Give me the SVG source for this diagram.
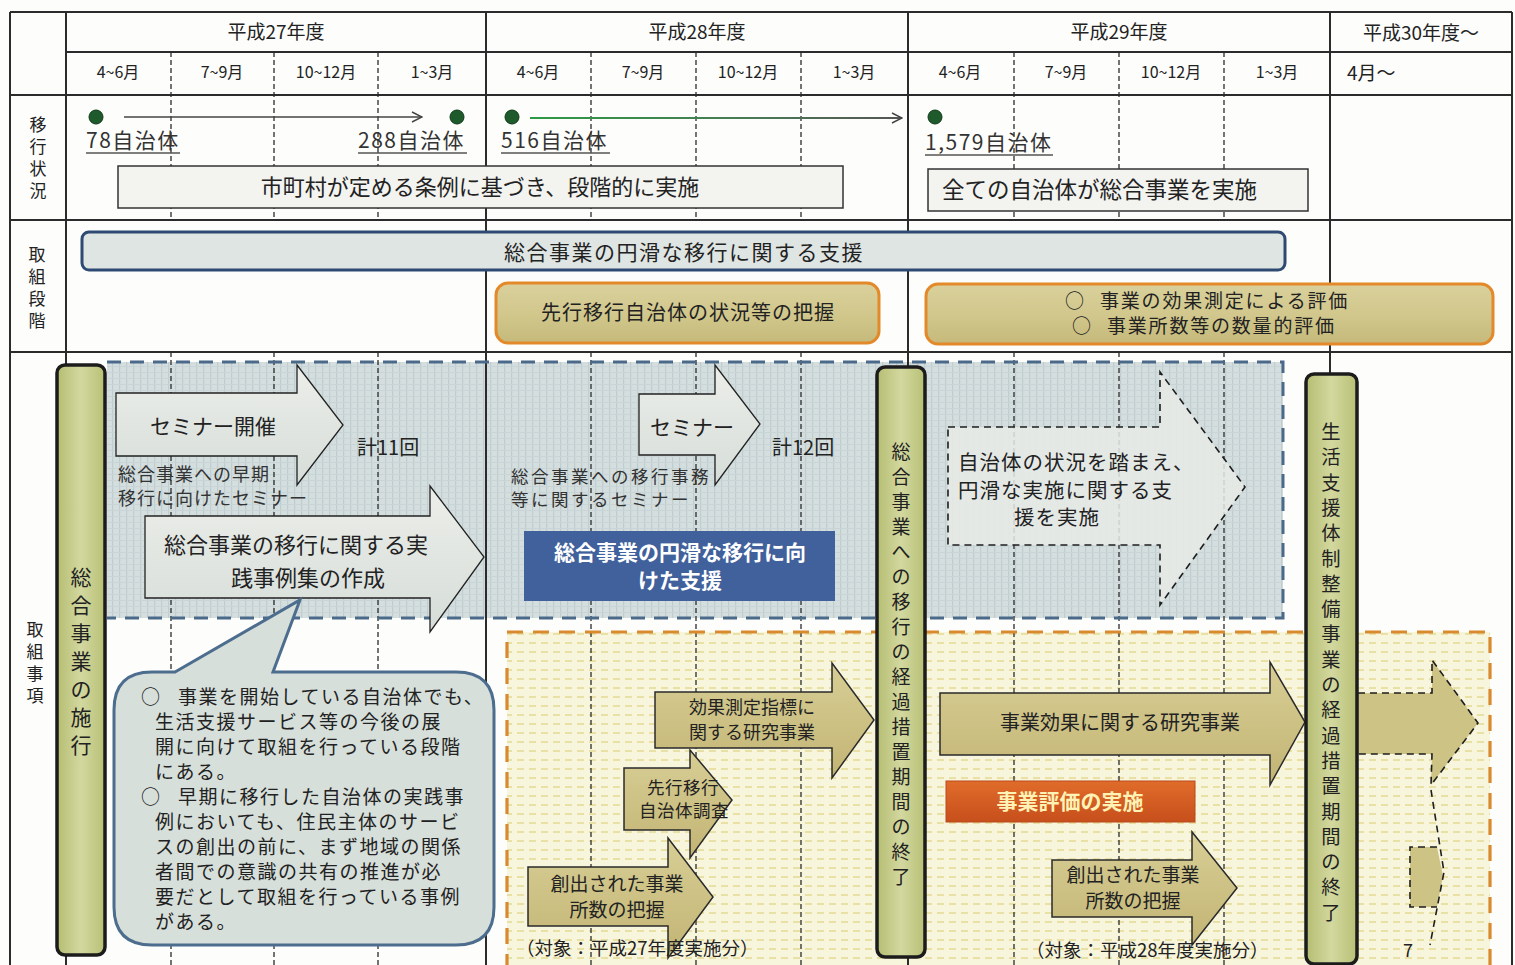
<svg xmlns="http://www.w3.org/2000/svg" width="1515" height="965" viewBox="0 0 1515 965">
<defs>
<style>
text{font-family:"Noto Sans CJK JP","Noto Sans",sans-serif;fill:#222}
.grid{stroke:#2b2b2b;stroke-width:2;fill:none}
.q{stroke:#2b2b2b;stroke-width:1.3;stroke-dasharray:5 3;fill:none}
.hdr{font-size:19px;text-anchor:middle}
.mon{font-size:16px;text-anchor:middle}
.cnt{font-size:21px;letter-spacing:1.5px;fill:#333}
.ul{stroke:#555;stroke-width:1.5}
.dot{fill:#1e5a2b;stroke:#0f3a18;stroke-width:1}
.vlab{font-size:17px;text-anchor:middle}
.box1{fill:#f3f3f0;stroke:#333;stroke-width:1.5}
.bar{fill:url(#gBar);stroke:#1c1c1c;stroke-width:3.5}
.barT{text-anchor:middle}
.garr{fill:url(#gGray);stroke:#222;stroke-width:1.3}
.karr{fill:url(#gKhaki);stroke:#2a2a2a;stroke-width:1.5}
.obox{fill:url(#gOlive);stroke:#e3892a;stroke-width:3}
.mid{text-anchor:middle}
.dash{fill:none;stroke:#1e1e1e;stroke-width:1.6;stroke-dasharray:7 5}
</style>
<pattern id="pBlue" width="7" height="6" patternUnits="userSpaceOnUse">
<rect width="7" height="6" fill="#d4dede"/>
<rect x="0" y="0" width="1.2" height="6" fill="#bfcdcf"/>
<rect x="0" y="0" width="7" height="1" fill="#c8d4d5"/>
</pattern>
<pattern id="pYel" width="12" height="9" patternUnits="userSpaceOnUse">
<rect width="12" height="9" fill="#f8f5dd"/>
<rect x="1" y="3" width="7" height="2" fill="#e8e0a4"/>
</pattern>
<linearGradient id="gBar" x1="0" x2="1" y1="0" y2="0">
<stop offset="0" stop-color="#b5bd72"/><stop offset="0.5" stop-color="#d3d89f"/><stop offset="1" stop-color="#b8c075"/>
</linearGradient>
<linearGradient id="gGray" x1="0" x2="0" y1="0" y2="1">
<stop offset="0" stop-color="#eceee9"/><stop offset="1" stop-color="#d6ddd9"/>
</linearGradient>
<linearGradient id="gKhaki" x1="0" x2="0" y1="0" y2="1">
<stop offset="0" stop-color="#d8ce95"/><stop offset="1" stop-color="#c2b474"/>
</linearGradient>
<linearGradient id="gOlive" x1="0" x2="0" y1="0" y2="1">
<stop offset="0" stop-color="#d9d09c"/><stop offset="0.5" stop-color="#d2c88d"/><stop offset="1" stop-color="#c5b97a"/>
</linearGradient>
<linearGradient id="gRed" x1="0" x2="0" y1="0" y2="1">
<stop offset="0" stop-color="#e06c2a"/><stop offset="1" stop-color="#c74f1c"/>
</linearGradient>
<linearGradient id="gGreenLine" gradientUnits="userSpaceOnUse" x1="530" y1="0" x2="902" y2="0">
<stop offset="0" stop-color="#2f9a45"/><stop offset="0.6" stop-color="#4a7a55"/><stop offset="1" stop-color="#555"/>
</linearGradient>
<marker id="chev" viewBox="0 0 12 12" refX="11" refY="6" markerWidth="12" markerHeight="12" markerUnits="userSpaceOnUse" orient="auto">
<path d="M1,1 L11,6 L1,11" fill="none" stroke="#444" stroke-width="1.4"/>
</marker>
</defs>

<rect width="1515" height="965" fill="#fdfdfc"/>

<!-- regions -->
<g id="region-blue">
<rect x="107" y="362" width="1176" height="256" fill="url(#pBlue)"/>
</g>
<g id="region-yellow">
<rect x="507" y="632" width="983" height="340" fill="url(#pYel)"/>
</g>

<!-- grid -->
<g id="grid">
<g class="q">
<path d="M171,52V220 M274,52V220 M378,52V220 M591,52V220 M696,52V220 M801,52V220 M1014,52V220 M1119,52V220 M1224,52V220"/>
<path d="M171,352V965 M274,352V965 M378,352V965 M591,352V965 M696,352V965 M801,352V965 M1014,352V965 M1119,352V965 M1224,352V965"/>
</g>
<path class="grid" d="M10,12H1512 M66,52H1512 M10,95H1512 M10,220H1512 M10,352H1512 M10,12V965 M66,12V965 M486,12V965 M908,12V965 M1330,12V965 M1512,12V965"/>
</g>

<g id="region-borders">
<path d="M107,362H1283V618H107" fill="none" stroke="#4b6a8a" stroke-width="3" stroke-dasharray="14 9"/>
<path d="M507,970V632H1490V970" fill="none" stroke="#d9892e" stroke-width="3.2" stroke-dasharray="16 10"/>
</g>

<!-- header -->
<g id="header">
<text class="hdr" x="276" y="39">平成27年度</text>
<text class="hdr" x="697" y="39">平成28年度</text>
<text class="hdr" x="1119" y="39">平成29年度</text>
<text class="hdr" x="1421" y="40">平成30年度～</text>
<text class="mon" x="118" y="78">4~6月</text>
<text class="mon" x="222" y="78">7~9月</text>
<text class="mon" x="326" y="78">10~12月</text>
<text class="mon" x="432" y="78">1~3月</text>
<text class="mon" x="538" y="78">4~6月</text>
<text class="mon" x="643" y="78">7~9月</text>
<text class="mon" x="748" y="78">10~12月</text>
<text class="mon" x="854" y="78">1~3月</text>
<text class="mon" x="960" y="78">4~6月</text>
<text class="mon" x="1066" y="78">7~9月</text>
<text class="mon" x="1171" y="78">10~12月</text>
<text class="mon" x="1277" y="78">1~3月</text>
<text x="1347" y="80" font-size="19">4月～</text>
</g>

<!-- row labels -->
<g id="label-ikou">
<text class="vlab"><tspan x="38" y="131">移</tspan><tspan x="38" y="153">行</tspan><tspan x="38" y="175">状</tspan><tspan x="38" y="197">況</tspan></text>
</g>
<g id="label-dankai">
<text class="vlab"><tspan x="37" y="261">取</tspan><tspan x="37" y="283">組</tspan><tspan x="37" y="305">段</tspan><tspan x="37" y="327">階</tspan></text>
</g>
<g id="label-jikou">
<text class="vlab"><tspan x="35" y="636">取</tspan><tspan x="35" y="658">組</tspan><tspan x="35" y="680">事</tspan><tspan x="35" y="702">項</tspan></text>
</g>

<!-- connectors -->
<g id="connectors">
<line x1="124" y1="117" x2="422" y2="117" stroke="#444" stroke-width="1.4" marker-end="url(#chev)"/>
<line x1="530" y1="118" x2="902" y2="118" stroke="url(#gGreenLine)" stroke-width="2" marker-end="url(#chev)"/>
</g>

<!-- row 1 -->
<g id="m78">
<circle class="dot" cx="96" cy="117" r="7"/>
<text class="cnt" x="86" y="148">78自治体</text>
<line class="ul" x1="86" y1="153" x2="180" y2="153"/>
</g>
<g id="m288">
<circle class="dot" cx="457" cy="117" r="7"/>
<text class="cnt" x="358" y="148">288自治体</text>
<line class="ul" x1="358" y1="153" x2="467" y2="153"/>
</g>
<g id="m516">
<circle class="dot" cx="512" cy="117" r="7"/>
<text class="cnt" x="501" y="148">516自治体</text>
<line class="ul" x1="501" y1="153" x2="610" y2="153"/>
</g>
<g id="m1579">
<circle class="dot" cx="935" cy="117" r="7"/>
<text class="cnt" x="925" y="150">1,579自治体</text>
<line class="ul" x1="925" y1="155" x2="1053" y2="155"/>
</g>
<g id="box-dankaiteki">
<rect class="box1" x="118" y="166" width="725" height="42"/>
<text class="mid" x="480" y="195" font-size="22">市町村が定める条例に基づき、段階的に実施</text>
</g>
<g id="box-subete">
<rect class="box1" x="928" y="169" width="380" height="42"/>
<text x="942" y="198" font-size="22.5">全ての自治体が総合事業を実施</text>
</g>

<!-- row 2 -->
<g id="box-shien">
<rect x="82" y="232" width="1203" height="38" rx="7" fill="#dfe5e2" stroke="#2e4a73" stroke-width="3"/>
<text class="mid" x="684" y="260" font-size="21" letter-spacing="1.5">総合事業の円滑な移行に関する支援</text>
</g>
<g id="box-haaku">
<rect class="obox" x="496" y="283" width="383" height="60" rx="12"/>
<text class="mid" x="688" y="320" font-size="20" letter-spacing="1">先行移行自治体の状況等の把握</text>
</g>
<g id="box-hyouka">
<rect class="obox" x="926" y="284" width="567" height="60" rx="12"/>
<text font-size="19" letter-spacing="1.8"><tspan x="1065" y="308">○</tspan><tspan x="1100" y="308">事業の効果測定による評価</tspan><tspan x="1072" y="333">○</tspan><tspan x="1107" y="333">事業所数等の数量的評価</tspan></text>
</g>

<!-- row 3 : blue region -->
<g id="arrow-seminar1">
<polygon class="garr" points="116,393 297,393 297,365 343,425 297,485 297,456 116,456"/>
<text x="150" y="434" font-size="21">セミナー開催</text>
</g>
<g id="note-seminar1">
<text font-size="18" letter-spacing="1" style="fill:#333"><tspan x="118" y="481">総合事業への早期</tspan><tspan x="118" y="505">移行に向けたセミナー</tspan></text>
<text x="357" y="455" font-size="20">計11回</text>
</g>
<g id="arrow-jireishu">
<polygon class="garr" points="145,516 430,516 430,486 484,557 430,632 430,598 145,598"/>
<text class="mid" font-size="22"><tspan x="296" y="553">総合事業の移行に関する実</tspan><tspan x="308" y="586">践事例集の作成</tspan></text>
</g>
<g id="arrow-seminar2">
<polygon class="garr" points="639,394 715,394 715,365 760,424 715,485 715,455 639,455"/>
<text class="mid" x="692" y="435" font-size="21">セミナー</text>
</g>
<g id="note-seminar2">
<text font-size="17.5" letter-spacing="2.5" style="fill:#333"><tspan x="511" y="483">総合事業への移行事務</tspan><tspan x="511" y="506">等に関するセミナー</tspan></text>
<text x="772" y="455" font-size="20">計12回</text>
</g>
<g id="box-enkatsu">
<rect x="524" y="531" width="311" height="70" fill="#40619c"/>
<text class="mid" font-size="21" font-weight="bold" style="fill:#fff"><tspan x="680" y="560">総合事業の円滑な移行に向</tspan><tspan x="680" y="588">けた支援</tspan></text>
</g>
<g id="arrow-jisshi">
<polygon points="948,427 1160,427 1160,372 1245,487 1160,605 1160,545 948,545" fill="#e7ebe7" fill-opacity="0.85"/>
<polygon class="dash" points="948,427 1160,427 1160,372 1245,487 1160,605 1160,545 948,545"/>
<text font-size="20.5" letter-spacing="1"><tspan x="958" y="470">自治体の状況を踏まえ、</tspan><tspan x="958" y="498">円滑な実施に関する支</tspan><tspan x="1014" y="525">援を実施</tspan></text>
</g>

<!-- callout -->
<g id="callout">
<path d="M152,672 L175,672 L300,600 L273,672 L456,672 Q494,672 494,710 L494,907 Q494,945 456,945 L152,945 Q114,945 114,907 L114,710 Q114,672 152,672 Z" fill="#d7dfda" stroke="#4d6d8e" stroke-width="3"/>
<text font-size="19" letter-spacing="1.5">
<tspan x="141" y="704">○</tspan><tspan x="178" y="704">事業を開始している自治体でも、</tspan>
<tspan x="155" y="729">生活支援サービス等の今後の展</tspan>
<tspan x="155" y="754">開に向けて取組を行っている段階</tspan>
<tspan x="155" y="779">にある。</tspan>
<tspan x="141" y="804">○</tspan><tspan x="178" y="804">早期に移行した自治体の実践事</tspan>
<tspan x="155" y="829">例においても、住民主体のサービ</tspan>
<tspan x="155" y="854">スの創出の前に、まず地域の関係</tspan>
<tspan x="155" y="879">者間での意識の共有の推進が必</tspan>
<tspan x="155" y="904">要だとして取組を行っている事例</tspan>
<tspan x="155" y="929">がある。</tspan>
</text>
</g>

<!-- row 3 : yellow region -->
<g id="arrow-souhaku27">
<polygon class="karr" points="528,867 668,867 668,838 713,897 668,958 668,926 528,926"/>
<text class="mid" font-size="19"><tspan x="617" y="891">創出された事業</tspan><tspan x="617" y="917">所数の把握</tspan></text>
</g>
<g id="arrow-chousa">
<polygon class="karr" points="624,768 690,768 690,750 732,800 690,858 690,830 624,830"/>
<text class="mid" font-size="17.5" letter-spacing="0.5"><tspan x="683" y="794">先行移行</tspan><tspan x="684" y="817">自治体調査</tspan></text>
</g>
<g id="arrow-kouka">
<polygon class="karr" points="655,692 832,692 832,663 874,720 832,778 832,748 655,748"/>
<text class="mid" font-size="18"><tspan x="752" y="714">効果測定指標に</tspan><tspan x="752" y="739">関する研究事業</tspan></text>
</g>
<text id="note-27" x="516" y="955" font-size="18.5">（対象：平成27年度実施分）</text>

<g id="arrow-kenkyu">
<polygon class="karr" points="940,693 1270,693 1270,662 1305,722 1270,785 1270,755 940,755"/>
<text class="mid" x="1120" y="730" font-size="20">事業効果に関する研究事業</text>
</g>
<g id="box-jigyohyoka">
<rect x="946" y="781" width="249" height="41" fill="url(#gRed)" stroke="#b9481a" stroke-width="1"/>
<text class="mid" x="1070" y="809" font-size="21" font-weight="bold" style="fill:#fff2b5">事業評価の実施</text>
</g>
<g id="arrow-souhaku28">
<polygon class="karr" points="1052,860 1192,860 1192,832 1237,888 1192,945 1192,917 1052,917"/>
<text class="mid" font-size="19"><tspan x="1133" y="882">創出された事業</tspan><tspan x="1133" y="908">所数の把握</tspan></text>
</g>
<text id="note-28" x="1026" y="957" font-size="18.5">（対象：平成28年度実施分）</text>

<g id="arrow-future">
<polygon points="1358,693 1432,693 1432,660 1478,723 1431,785 1432,754 1358,754" fill="#cdc384"/>
<polyline class="dash" points="1358,693 1432,693 1432,660 1478,723 1431,785 1432,754 1358,754"/>
</g>
<g id="arrow-future-small">
<polygon points="1410,847 1437,847 1443,876 1437,907 1410,907" fill="#cdc384"/>
<polyline class="dash" points="1437,847 1410,847 1410,907 1437,907"/>
<polyline class="dash" points="1431,790 1444,872 1430,945"/>
</g>
<text id="page-num" x="1403" y="957" font-size="18">7</text>

<!-- vertical bars -->
<g id="bar-shikou">
<rect class="bar" x="57" y="365" width="48" height="590" rx="8"/>
<text class="barT" font-size="21"><tspan x="81" y="585">総</tspan><tspan x="81" y="613">合</tspan><tspan x="81" y="641">事</tspan><tspan x="81" y="669">業</tspan><tspan x="81" y="697">の</tspan><tspan x="81" y="725">施</tspan><tspan x="81" y="753">行</tspan></text>
</g>
<g id="bar-shuryo1">
<rect class="bar" x="877" y="367" width="48" height="590" rx="8"/>
<text class="barT" font-size="19"><tspan x="901" y="459">総</tspan><tspan x="901" y="484">合</tspan><tspan x="901" y="509">事</tspan><tspan x="901" y="534">業</tspan><tspan x="901" y="559">へ</tspan><tspan x="901" y="584">の</tspan><tspan x="901" y="609">移</tspan><tspan x="901" y="634">行</tspan><tspan x="901" y="659">の</tspan><tspan x="901" y="684">経</tspan><tspan x="901" y="709">過</tspan><tspan x="901" y="734">措</tspan><tspan x="901" y="759">置</tspan><tspan x="901" y="784">期</tspan><tspan x="901" y="809">間</tspan><tspan x="901" y="834">の</tspan><tspan x="901" y="859">終</tspan><tspan x="901" y="884">了</tspan></text>
</g>
<g id="bar-shuryo2">
<rect class="bar" x="1306" y="374" width="51" height="590" rx="8"/>
<text class="barT" font-size="19.3"><tspan x="1331" y="439">生</tspan><tspan x="1331" y="464.3">活</tspan><tspan x="1331" y="489.6">支</tspan><tspan x="1331" y="514.9">援</tspan><tspan x="1331" y="540.2">体</tspan><tspan x="1331" y="565.5">制</tspan><tspan x="1331" y="590.8">整</tspan><tspan x="1331" y="616.1">備</tspan><tspan x="1331" y="641.4">事</tspan><tspan x="1331" y="666.7">業</tspan><tspan x="1331" y="692">の</tspan><tspan x="1331" y="717.3">経</tspan><tspan x="1331" y="742.6">過</tspan><tspan x="1331" y="767.9">措</tspan><tspan x="1331" y="793.2">置</tspan><tspan x="1331" y="818.5">期</tspan><tspan x="1331" y="843.8">間</tspan><tspan x="1331" y="869.1">の</tspan><tspan x="1331" y="894.4">終</tspan><tspan x="1331" y="919.7">了</tspan></text>
</g>
</svg>
